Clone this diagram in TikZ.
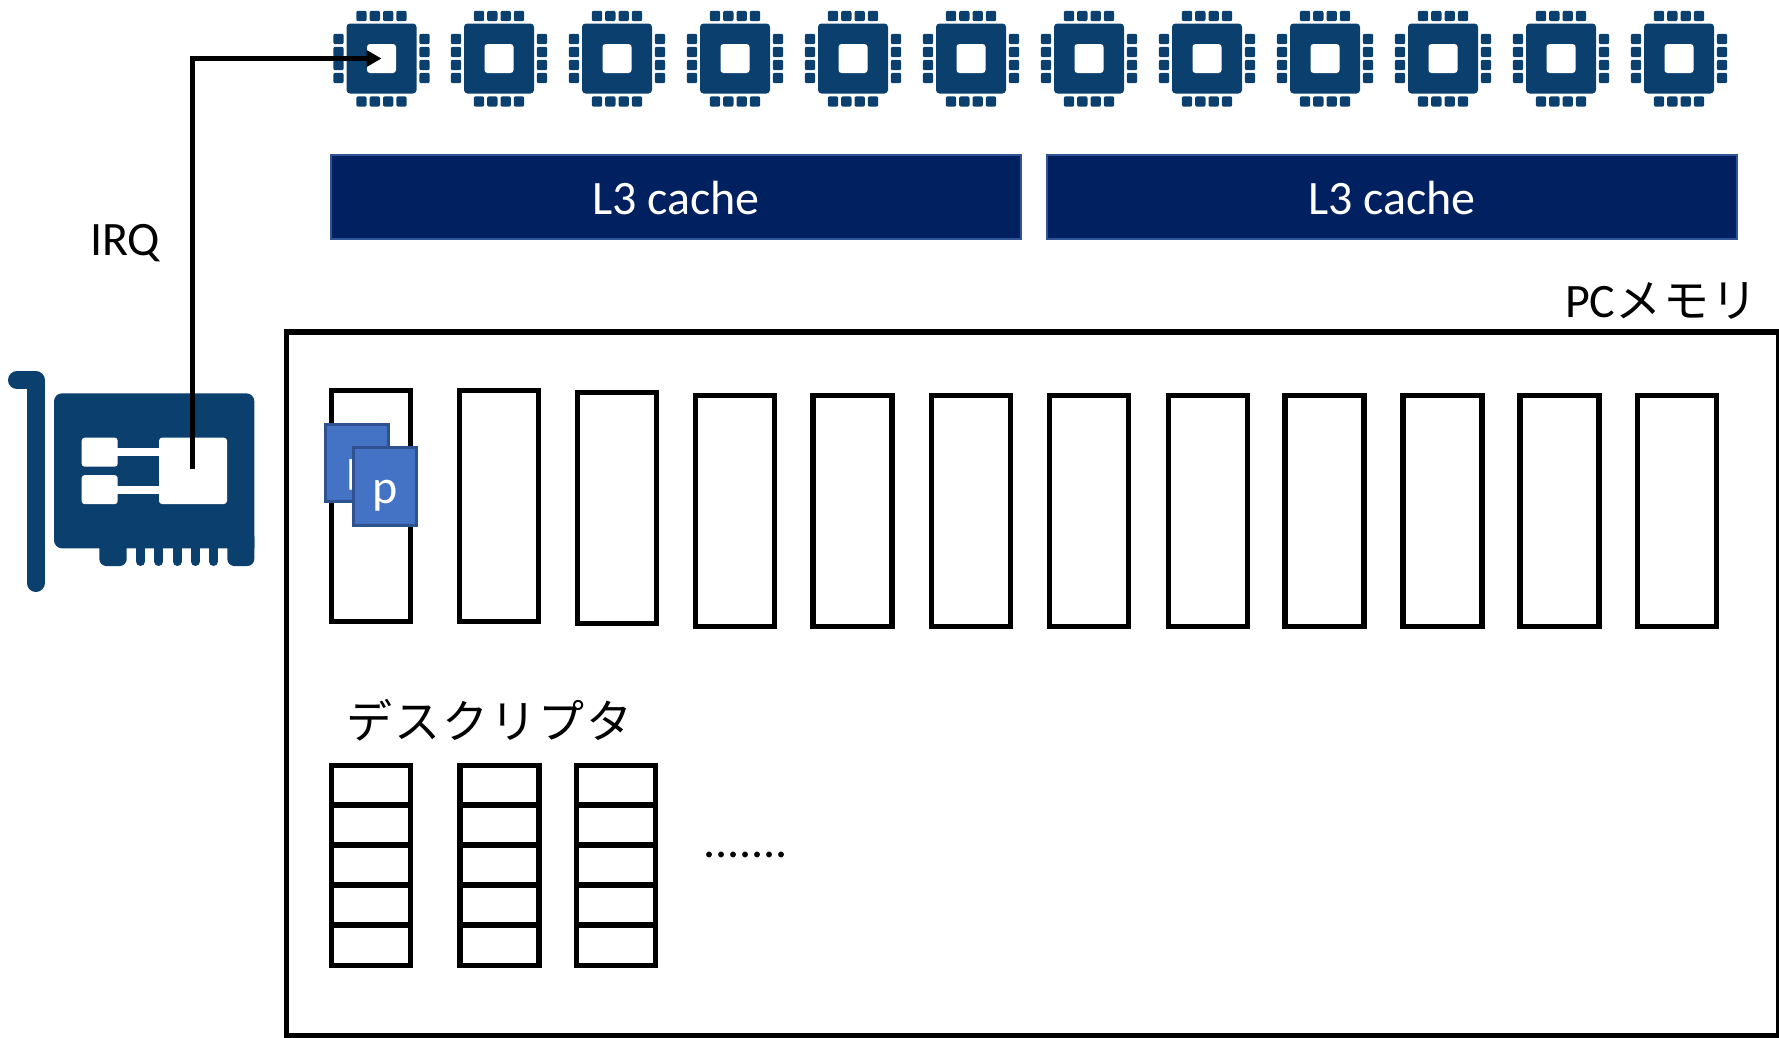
\documentclass[tikz,border=0pt]{standalone}
\usepackage{fontspec}
\setmainfont{Carlito}
\newfontfamily\jp[LetterSpace=4]{Noto Sans CJK JP}
\usetikzlibrary{arrows.meta}
\definecolor{chipblue}{HTML}{0B3F6E}
\definecolor{cachefill}{HTML}{002060}
\definecolor{cacheline}{HTML}{2F5597}
\definecolor{pktfill}{HTML}{4472C4}
\definecolor{pktline}{HTML}{2F528F}
\tikzset{
  every node/.style={inner sep=0pt,outer sep=0pt,font=\fontsize{48}{56}\selectfont},
  jptext/.style={font=\fontsize{46}{56}\selectfont\jp},
  cachebox/.style={draw=cacheline,fill=cachefill,line width=2.8pt,text=white,minimum width=690pt,minimum height=84pt},
  chipbody/.style={fill=chipblue,rounded corners=3.5pt,minimum width=70pt,minimum height=70pt},
  chiphole/.style={fill=white,rounded corners=3pt,minimum width=29pt,minimum height=29pt},
  pinh/.style={fill=chipblue,rounded corners=2pt,minimum width=10.4pt,minimum height=10.4pt},
  bufbox/.style={draw=black,line width=5.2pt,minimum width=79pt,minimum height=231pt},
  cell/.style={draw=black,line width=5.2pt,minimum width=79pt,minimum height=40pt},
  memframe/.style={draw=black,line width=5.2pt,minimum width=1492.5pt,minimum height=703.5pt},
  pkt/.style={draw=pktline,fill=pktfill,line width=2.8pt,text=white,minimum width=63.5pt,minimum height=77.5pt},
  irq/.style={draw=black,line width=5.8pt,-{Triangle[length=15pt,width=16pt]}},
  niccolor/.style={fill=chipblue},
  nicstroke/.style={draw=chipblue,line cap=round,line join=round},
  nicwhite/.style={fill=white,rounded corners=3pt},
}
\begin{document}
\begin{tikzpicture}[x=1pt,y=-1pt]
\useasboundingbox (0,0) rectangle (1779,1037);
% CPU cores
\foreach \n/\cx in {1/381.5,2/499,3/617,4/735,5/853,6/971,7/1089,8/1207,9/1325,10/1443,11/1561,12/1679}{
  \node[chipbody] (cpu\n) at (\cx,58.5) {};
  \node[chiphole] (hole\n) at (\cx,58.5) {};
  \foreach \d [count=\i] in {-20,-6.7,6.7,20}{
    \node[pinh] (pt\n-\i) at (\cx+\d,16) {};
    \node[pinh] (pb\n-\i) at (\cx+\d,101.5) {};
  }
  \foreach \d [count=\i] in {-19.5,-6.5,6.5,19.5}{
    \node[pinh] (pl\n-\i) at (\cx-43,58.5+\d) {};
    \node[pinh] (pr\n-\i) at (\cx+43,58.5+\d) {};
  }
}
% L3 caches
\node[cachebox] (l3a) at (676,197) {\raisebox{-17.5pt}[0pt][0pt]{L3 cache}};
\node[cachebox] (l3b) at (1392,197) {\raisebox{-17.5pt}[0pt][0pt]{L3 cache}};
% labels
\node[anchor=west] (irqlabel) at (90,243) {IRQ};
\node[anchor=base west] (pclabel) at (1565,317) {PC{\fontsize{46}{56}\selectfont\jp メモリ}};
% memory
\node[memframe] (mem) at (1032.75,683.75) {};
\foreach \n/\cx/\top in {1/371/390.5,2/499/390.5,3/617/392.5,4/735/395.5,5/852.5/395.5,6/971/395.5,7/1089/395.5,8/1208/395.5,9/1324.5/395.5,10/1442.5/395.5,11/1559.5/395.5,12/1677/395.5}{
  \node[bufbox] (buf\n) at (\cx,\top+115.5) {};
}
% packets
\node[pkt] (pkta) at (357,463) {\hspace*{5pt}\raisebox{-19pt}[0pt][0pt]{p}};
\node[pkt] (pktb) at (385,486.5) {\raisebox{-16.5pt}[0pt][0pt]{p}};
% descriptors
\node[jptext,anchor=center] (desclabel) at (489.5,720) {デスクリプタ};
\foreach \c/\cx in {1/371,2/499.5,3/616}{
  \foreach \r/\cy in {1/785.5,2/825,3/865,4/905,5/945.5}{
    \node[cell] (d\c-\r) at (\cx,\cy) {};
  }
}
\node[anchor=base west] (dots) at (703,857) {.......};
% NIC bracket
\draw[nicstroke,line width=18pt] (17,380.2) -- (35.7,380.2) -- (35.7,583);
% NIC board
\fill[niccolor,rounded corners=8pt] (54,393.3) -- (254.3,393.3) -- (254.3,500) [sharp corners] -- (254.3,548.3) -- (62,548.3) [rounded corners=8pt] -- (54,548.3) -- cycle;
\fill[niccolor,rounded corners=7pt] (99.3,530) -- (126.7,530) -- (126.7,566) -- (99.3,566) -- cycle;
\fill[niccolor,rounded corners=7pt] (227.3,530) -- (254.3,530) -- (254.3,566) -- (227.3,566) -- cycle;
\foreach \x in {140.5,158.8,177.2,195.4,213.5}{
  \draw[nicstroke,line width=9pt] (\x,545) -- (\x,561.5);
}
\node[nicwhite,minimum width=36pt,minimum height=29pt] (nica) at (99.7,452.2) {};
\node[nicwhite,minimum width=36pt,minimum height=29pt] (nicb) at (99.7,489.6) {};
\node[nicwhite,minimum width=68pt,minimum height=66.3pt] (nicc) at (193,470.85) {};
\fill[white] (117,447.7) rectangle (160,456.3);
\fill[white] (117,485.7) rectangle (160,494.3);
\coordinate (nicport) at (192.5,469);
% IRQ
\draw[irq] (nicport) |- (cpu1.center);
\end{tikzpicture}
\end{document}
